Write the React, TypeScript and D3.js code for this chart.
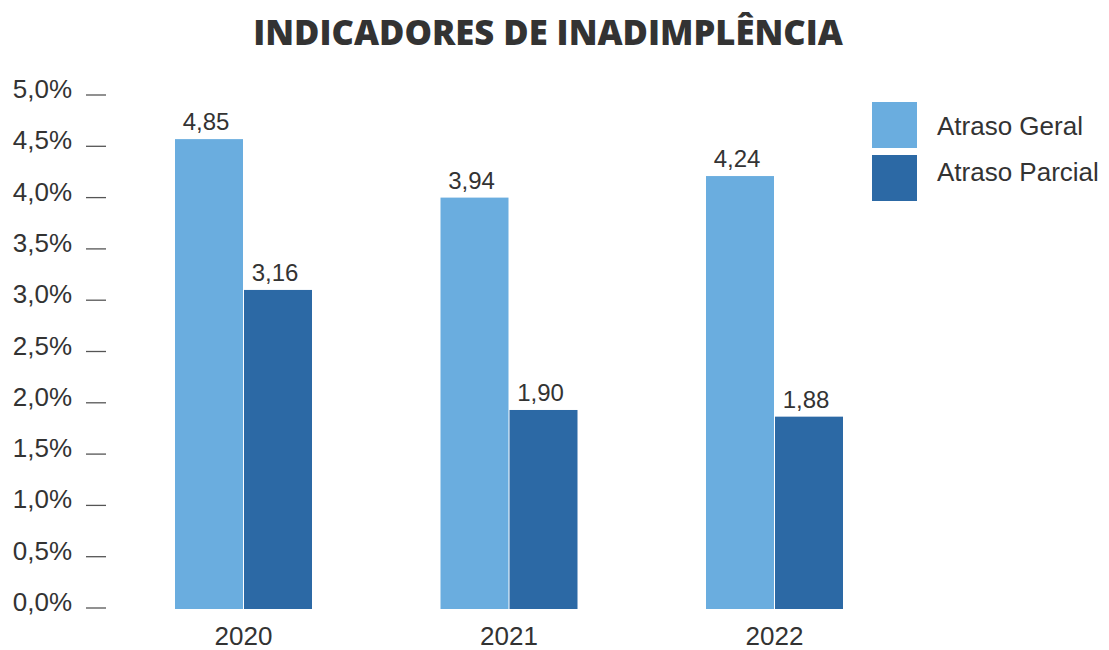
import React from "react";
import * as d3 from "d3";

const categories = ["2020", "2021", "2022"];
const seriesNames = ["Atraso Geral", "Atraso Parcial"];
const atrasoGeral = [4.57, 4.0, 4.21];
const atrasoParcial = [3.1, 1.93, 1.865];
const labelsGeral = ["4,85", "3,94", "4,24"];
const labelsParcial = ["3,16", "1,90", "1,88"];
const yTicks = [0, 0.5, 1, 1.5, 2, 2.5, 3, 3.5, 4, 4.5, 5];
const colors = ["#6aaddf", "#2c69a5"];

const W = 1109;
const H = 650;

export default function App() {
  const y = d3.scaleLinear().domain([0, 5]).range([608, 95]);
  const x0 = d3.scalePoint<string>().domain(categories).range([243.5, 774.5]);
  const x1 = d3.scaleBand<string>().domain(seriesNames).range([-68.5, 69.5]).padding(0);
  const fmt = (v: number) => d3.format(".1f")(v).replace(".", ",") + "%";
  const values = [atrasoGeral, atrasoParcial];
  const labels = [labelsGeral, labelsParcial];
  const font = "Arial, 'Liberation Sans', Helvetica, sans-serif";

  return (
    <svg width={W} height={H} style={{ position: "absolute", left: 0, top: 0 }}>
      <rect width={W} height={H} fill="#ffffff" />
      <text
        x={548}
        y={45}
        textAnchor="middle"
        fontFamily="'Open Sans', sans-serif"
        fontWeight={800}
        fontSize={34.6}
        fill="#333333"
      >
        INDICADORES DE INADIMPLÊNCIA
      </text>
      {yTicks.map((t) => (
        <g key={t}>
          <line x1={86} x2={106} y1={y(t)} y2={y(t)} stroke="#555555" strokeWidth={1.3} />
          <text x={72} y={y(t) + 3} textAnchor="end" fontFamily={font} fontSize={26} fill="#333333">
            {fmt(t)}
          </text>
        </g>
      ))}
      {categories.map((c, ci) => (
        <g key={c}>
          {seriesNames.map((s, si) => {
            const v = values[si][ci];
            const bx = (x0(c) as number) + (x1(s) as number);
            const bw = x1.bandwidth() - 1;
            return (
              <g key={s}>
                <rect x={bx} y={y(v)} width={bw} height={y(0) + 1 - y(v)} fill={colors[si]} />
                <text
                  x={bx + bw / 2 - 3}
                  y={y(v) - 9}
                  textAnchor="middle"
                  fontFamily={font}
                  fontSize={24}
                  fill="#333333"
                >
                  {labels[si][ci]}
                </text>
              </g>
            );
          })}
          <text
            x={x0(c) as number}
            y={645}
            textAnchor="middle"
            fontFamily={font}
            fontSize={26}
            fill="#333333"
          >
            {c}
          </text>
        </g>
      ))}
      {seriesNames.map((s, si) => (
        <g key={s}>
          <rect x={872} y={102 + si * 53} width={45} height={46} fill={colors[si]} />
          <text x={937} y={135 + si * 45.5} fontFamily={font} fontSize={26} fill="#333333">
            {s}
          </text>
        </g>
      ))}
    </svg>
  );
}
